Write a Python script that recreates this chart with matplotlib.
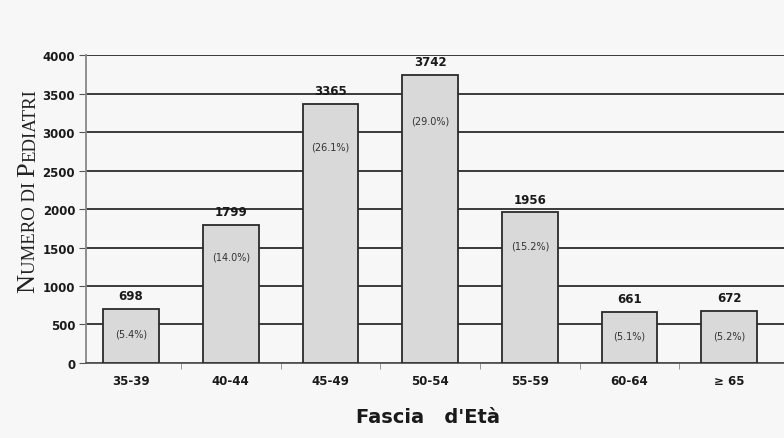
import matplotlib.pyplot as plt
import numpy as np

categorie = ["35-39", "40-44", "45-49", "50-54", "55-59", "60-64", "\u2265 65"]
pediatri = [698, 1799, 3365, 3742, 1956, 661, 672]
percentuali = ["(5.4%)", "(14.0%)", "(26.1%)", "(29.0%)", "(15.2%)", "(5.1%)", "(5.2%)"]

bg = "#f7f7f7"
fig = plt.figure(figsize=(7.84, 4.39), dpi=100, facecolor=bg)
ax = fig.add_axes([0.11, 0.171, 0.89, 0.701], facecolor=bg)

x = np.arange(len(categorie))
ax.set_axisbelow(True)
ax.grid(axis="y", color="#3a3a3a", linewidth=1.4)
ax.bar(x, pediatri, width=0.56, color="#d9d9d9", edgecolor="#2a2a2a", linewidth=1.3, zorder=3)

for xi, v, p in zip(x, pediatri, percentuali):
    ax.annotate(str(v), (xi, v), xytext=(0, 5), textcoords="offset points",
                ha="center", va="bottom", fontsize=8.5, fontweight="bold", color="#1a1a1a")
    ax.text(xi, v - (250 + 0.09 * v), p, ha="center", va="center",
            fontsize=7, color="#333333", zorder=4)

ax.set_xlim(-0.45, 6.55)
ax.set_ylim(0, 4000)
ax.set_yticks(np.arange(0, 4001, 500))
ax.set_xticks(x)
ax.set_xticklabels(categorie)
ax.set_xticks(np.arange(0.5, 6.5, 1), minor=True)
ax.tick_params(axis="x", which="major", length=0, pad=8, labelsize=8.5, labelcolor="#1a1a1a")
ax.tick_params(axis="x", which="minor", length=4, color="#888888")
ax.tick_params(axis="y", length=5, color="#555555", labelsize=8.5, labelcolor="#1a1a1a", pad=3)
for lab in ax.get_xticklabels() + ax.get_yticklabels():
    lab.set_fontweight("bold")

for s in ["top", "right"]:
    ax.spines[s].set_visible(False)
ax.spines["left"].set_color("#888888")
ax.spines["bottom"].set_color("#555555")
ax.spines["left"].set_linewidth(1.3)
ax.spines["bottom"].set_linewidth(1.3)

# etichetta asse y in maiuscoletto
t1 = fig.text(0.036, 0.333, "N", rotation=90, ha="center", va="bottom",
              family="Liberation Serif", fontsize=19, color="#222222")
t2 = ax.annotate("UMERO DI ", xy=(1, 1), xycoords=t1, rotation=90, ha="right", va="bottom",
                 family="Liberation Serif", fontsize=13.5, color="#222222", annotation_clip=False)
t3 = ax.annotate("P", xy=(1, 1), xycoords=t2, rotation=90, ha="right", va="bottom",
                 family="Liberation Serif", fontsize=19, color="#222222", annotation_clip=False)
t4 = ax.annotate("EDIATRI", xy=(1, 1), xycoords=t3, rotation=90, ha="right", va="bottom",
                 family="Liberation Serif", fontsize=13.5, color="#222222", annotation_clip=False)

fig.text(0.546, 0.05, "Fascia   d'Età", ha="center", va="center",
         fontsize=14, fontweight="bold", color="#1a1a1a")

fig.savefig("out.png", dpi=100, facecolor=bg)
